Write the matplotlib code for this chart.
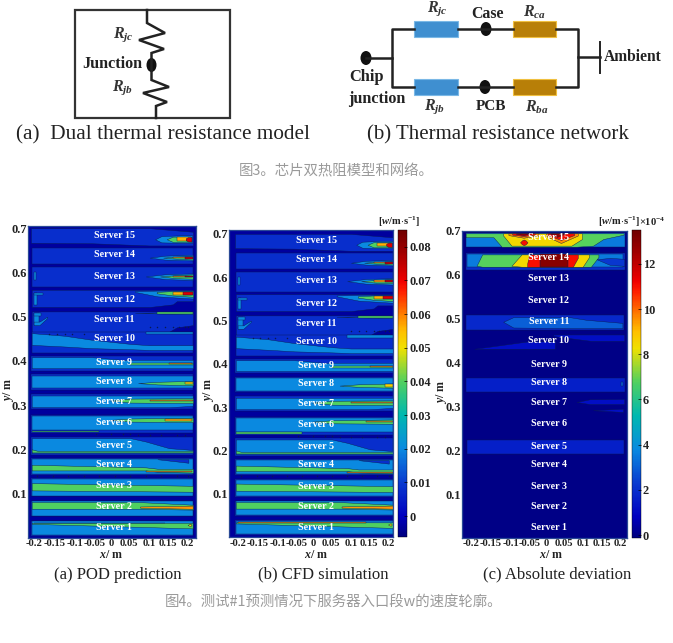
import matplotlib
matplotlib.use("Agg")
import matplotlib.pyplot as plt
from matplotlib.cm import ScalarMappable
from matplotlib.colors import LinearSegmentedColormap, Normalize
from matplotlib.patches import Ellipse, Rectangle

plt.rcParams["font.family"] = ["Liberation Serif", "DejaVu Sans"]
plt.rcParams["mathtext.fontset"] = "custom"
plt.rcParams["mathtext.rm"] = "Liberation Serif"
plt.rcParams["mathtext.it"] = "Liberation Serif:italic"
plt.rcParams["mathtext.bf"] = "Liberation Serif:bold"
plt.rcParams["mathtext.bfit"] = "Liberation Serif:italic:bold"

W, H = 673, 643

# --- contour tick labels -------------------------------------------------
server_names = ["Server %d" % i for i in range(15, 0, -1)]
server_label_y = [0.684, 0.640, 0.592, 0.540, 0.493, 0.451, 0.396, 0.354, 0.308,
                  0.260, 0.209, 0.167, 0.118, 0.071, 0.023]
y_ticks = [0.1, 0.2, 0.3, 0.4, 0.5, 0.6, 0.7]
x_tick_labels = ["-0.2", "-0.15", "-0.1", "-0.05", "0", "0.05", "0.1", "0.15", "0.2"]
x_tick_pos = [-0.2, -0.147, -0.094, -0.043, 0, 0.047, 0.1, 0.148, 0.198]
cbar_ticks_w = [0, 0.01, 0.02, 0.03, 0.04, 0.05, 0.06, 0.07, 0.08]
cbar_ticks_dev = [0, 2, 4, 6, 8, 10, 12]

# --- contour regions: (level, x, lower y, upper y) --
# velocity panels (a) and (b) share these, level in m/s
server_15 = [
    (0.008, [-0.207, -0.05, 0.1, 0.212], [0.667, 0.666, 0.661, 0.661], [0.700, 0.700, 0.700, 0.692]),
    (0.020, [0.114, 0.13, 0.18, 0.21], [0.675, 0.668, 0.667, 0.667], [0.675, 0.682, 0.684, 0.684]),
    (0.040, [0.144, 0.16, 0.208], [0.675, 0.669, 0.669], [0.675, 0.681, 0.681]),
    (0.056, [0.170, 0.207], [0.671, 0.671], [0.680, 0.680]),
    (0.072, [0.193, 0.199, 0.208], [0.673, 0.670, 0.670], [0.677, 0.680, 0.680]),
]
server_14 = [
    (0.008, [-0.205, 0.212], [0.619, 0.619], [0.656, 0.656]),
    (0.020, [0.10, 0.14, 0.211], [0.6335, 0.629, 0.627], [0.6335, 0.638, 0.640]),
    (0.040, [0.135, 0.17, 0.211], [0.6335, 0.631, 0.629], [0.6335, 0.636, 0.637]),
    (0.058, [0.16, 0.21], [0.632, 0.632], [0.635, 0.635]),
    (0.074, [0.19, 0.211], [0.631, 0.631], [0.636, 0.636]),
]
server_13 = [
    (0.008, [-0.205, 0.212], [0.567, 0.567], [0.612, 0.612]),
    (0.020, [-0.20, -0.195], [0.582, 0.582], [0.600, 0.600]),
    (0.020, [0.09, 0.14, 0.211], [0.591, 0.585, 0.583], [0.591, 0.596, 0.598]),
    (0.040, [0.127, 0.17, 0.211], [0.591, 0.587, 0.586], [0.591, 0.594, 0.596]),
    (0.058, [0.16, 0.21], [0.590, 0.590], [0.593, 0.593]),
    (0.074, [0.19, 0.211], [0.589, 0.589], [0.593, 0.593]),
]
server_12 = [
    (0.008, [-0.205, 0.1, 0.16, 0.17, 0.212], [0.522, 0.522, 0.528, 0.535, 0.535], [0.561] * 5),
    (0.020, [-0.20, -0.19], [0.527, 0.527], [0.553, 0.553]),
    (0.020, [-0.20, -0.175], [0.548, 0.548], [0.553, 0.553]),
    (0.020, [0.062, 0.12, 0.212], [0.556, 0.546, 0.541], [0.558, 0.559, 0.559]),
    (0.040, [0.118, 0.16, 0.212], [0.553, 0.548, 0.545], [0.556, 0.558, 0.558]),
    (0.056, [0.16, 0.21], [0.549, 0.549], [0.556, 0.556]),
    (0.072, [0.185, 0.211], [0.550, 0.550], [0.556, 0.556]),
]
server_11 = [
    (0.008, [-0.205, 0.15, 0.17, 0.212], [0.466, 0.466, 0.476, 0.481], [0.512] * 4),
    (0.020, [-0.20, -0.185], [0.481, 0.481], [0.508, 0.508]),
    (0.020, [-0.20, -0.18], [0.502, 0.502], [0.508, 0.508]),
    (0.020, [-0.20, -0.185, -0.165], [0.481, 0.481, 0.497], [0.489, 0.489, 0.500]),
    (0.020, [0.062, 0.211], [0.5085, 0.506], [0.5085, 0.511]),
    (0.040, [0.118, 0.211], [0.507, 0.507], [0.510, 0.510]),
]
server_10 = [
    (0.008, [-0.205, 0.212], [0.419, 0.419], [0.466, 0.466]),
    (0.020, [0.09, 0.211], [0.460, 0.460], [0.466, 0.466]),
    (0.020, [-0.205, -0.12, -0.05, 0.05, 0.1, 0.211],
     [0.4364, 0.4327, 0.429, 0.4266, 0.425, 0.425], [0.463, 0.457, 0.448, 0.4386, 0.4356, 0.4356]),
]
server_9 = [
    (0.008, [-0.207, 0.212], [0.378, 0.378], [0.412, 0.412]),
    (0.020, [-0.205, -0.05, 0.03, 0.212], [0.3837] * 4, [0.4086, 0.4086, 0.4026, 0.4026]),
    (0.040, [0.049, 0.212], [0.391, 0.391], [0.396, 0.396]),
    (0.058, [0.15, 0.21], [0.3925, 0.3925], [0.3945, 0.3945]),
]
server_8 = [
    (0.008, [-0.207, 0.212], [0.335, 0.335], [0.370, 0.370]),
    (0.020, [-0.205, 0.211], [0.3386, 0.3386], [0.3665, 0.3665]),
    (0.040, [0.07, 0.12, 0.212], [0.350, 0.347, 0.345], [0.350, 0.353, 0.355]),
    (0.052, [0.19, 0.211], [0.347, 0.347], [0.353, 0.353]),
]
server_7 = [
    (0.008, [-0.207, 0.212], [0.291, 0.291], [0.325, 0.325]),
    (0.020, [-0.205, 0.15, 0.211], [0.2957, 0.2957, 0.2985], [0.322, 0.322, 0.322]),
    (0.040, [-0.003, 0.05, 0.212], [0.3108, 0.306, 0.305], [0.3108, 0.315, 0.316]),
    (0.058, [0.1, 0.212], [0.309, 0.309], [0.3125, 0.3125]),
]
server_6 = [
    (0.008, [-0.207, 0.212], [0.237, 0.237], [0.278, 0.278]),
    (0.020, [-0.205, 0.211], [0.243, 0.243], [0.2746, 0.2746]),
    (0.040, [-0.003, 0.05, 0.212], [0.267, 0.263, 0.262], [0.267, 0.270, 0.272]),
    (0.056, [0.14, 0.21], [0.2655, 0.2655], [0.269, 0.269]),
    (0.040, [-0.205, -0.03], [0.2393, 0.2393], [0.2423, 0.2423]),
]
server_5 = [
    (0.008, [-0.207, 0.212], [0.188, 0.188], [0.228, 0.228]),
    (0.020, [-0.205, 0.05, 0.09, 0.15, 0.211], [0.192] * 5, [0.2257, 0.2257, 0.218, 0.203, 0.199]),
    (0.040, [-0.205, -0.19, 0.211], [0.1934] * 3, [0.2005, 0.197, 0.197]),
]
server_4 = [
    (0.008, [-0.207, 0.212], [0.143, 0.143], [0.181, 0.181]),
    (0.020, [-0.205, 0.211], [0.1452, 0.1452], [0.1783, 0.1783]),
    (0.008, [0.12, 0.2], [0.178, 0.170], [0.178, 0.178]),
    (0.040, [-0.205, 0.09, 0.12, 0.212], [0.1527, 0.1527, 0.1497, 0.1475], [0.1655, 0.1596, 0.1565, 0.1565]),
    (0.058, [0.09, 0.21], [0.149, 0.149], [0.1515, 0.1515]),
]
server_3 = [
    (0.008, [-0.207, 0.212], [0.094, 0.094], [0.1354, 0.1354]),
    (0.020, [-0.205, 0.211], [0.0955, 0.0955], [0.133, 0.133]),
    (0.040, [-0.205, 0.211], [0.1076, 0.1046], [0.124, 0.118]),
]
server_2 = [
    (0.008, [-0.207, 0.212], [0.049, 0.049], [0.0843, 0.0843]),
    (0.020, [-0.205, 0.211], [0.0504, 0.0504], [0.0828, 0.0828]),
    (0.040, [-0.205, 0.07, 0.212], [0.0662, 0.0662, 0.064], [0.0813, 0.0813, 0.0752]),
    (0.058, [0.075, 0.211], [0.0685, 0.0660], [0.0712, 0.0732]),
]
server_1 = [
    (0.008, [-0.207, 0.212], [0.0053, 0.0053], [0.039, 0.039]),
    (0.020, [-0.205, 0.211], [0.0075, 0.0075], [0.0376, 0.0376]),
    (0.040, [-0.205, 0.1, 0.211], [0.032, 0.0245, 0.0217], [0.0345, 0.0345, 0.0345]),
    (0.058, [-0.2, 0.14], [0.0335, 0.0335], [0.0345, 0.0345]),
    (0.052, [0.198, 0.205, 0.208], [0.0295, 0.0265, 0.0295], [0.0295, 0.0325, 0.0295]),
]
velocity_regions = [server_15, server_14, server_13, server_12, server_11, server_10, server_9,
                    server_8, server_7, server_6, server_5, server_4, server_3, server_2, server_1]

# dark dotted contour specks around servers 11, 6, 5 and 4
speck_x = [0.10, 0.12, 0.14, 0.16, 0.175, 0.19, 0.20, -0.16, -0.14, -0.12, -0.10, -0.07,
           -0.04, 0.0, 0.03, 0.05, 0.07, 0.10, 0.13, 0.17, 0.19, -0.19, -0.15, -0.11, -0.07,
           -0.03, 0.01, 0.05, 0.09, 0.13, 0.17, 0.20]
speck_y = [0.477, 0.477, 0.477, 0.477, 0.477, 0.477, 0.477, 0.460, 0.460, 0.460, 0.460, 0.460,
           0.234, 0.234, 0.234, 0.234, 0.232, 0.232, 0.232, 0.232, 0.232, 0.141, 0.141, 0.141, 0.141,
           0.141, 0.141, 0.141, 0.141, 0.141, 0.141, 0.141]

# deviation panel (c), level in 1e-4 m/s
dev_15 = [
    (3.5, [-0.214, 0.21], [0.662, 0.662], [0.694, 0.694]),
    (6.8, [-0.214, -0.14, -0.118, 0.082, 0.126, 0.153, 0.207],
     [0.685, 0.685, 0.6636, 0.6636, 0.666, 0.681, 0.691], [0.694] * 7),
    (8.4, [-0.114, -0.092, 0.068, 0.096], [0.689, 0.666, 0.666, 0.681], [0.694] * 4),
    (9.6, [-0.10, -0.06, -0.02], [0.69, 0.684, 0.689], [0.694] * 3),
    (9.6, [0.0, 0.04, 0.085], [0.688, 0.672, 0.689], [0.694] * 3),
    (11.0, [-0.09, -0.06, -0.03], [0.691, 0.688, 0.691], [0.694] * 3),
    (11.0, [0.005, 0.04, 0.075], [0.69, 0.679, 0.69], [0.694] * 3),
    (12.8, [-0.08, -0.06, -0.045], [0.693, 0.69, 0.693], [0.694] * 3),
    (12.8, [0.012, 0.03, 0.05], [0.693, 0.686, 0.693], [0.694] * 3),
    (11.0, [-0.069, -0.064, -0.059, -0.054, -0.049],
     [0.6735, 0.669, 0.667, 0.669, 0.6735], [0.6735, 0.678, 0.680, 0.678, 0.6735]),
]
dev_14 = [
    (2.0, [-0.214, 0.21], [0.611, 0.611], [0.649, 0.649]),
    (3.5, [-0.21, 0.205], [0.618, 0.618], [0.646, 0.646]),
    (6.8, [-0.185, -0.17, 0.12, 0.14], [0.62, 0.618, 0.618, 0.64], [0.62, 0.646, 0.646, 0.646]),
    (8.4, [-0.092, -0.065, 0.098, 0.115], [0.62, 0.618, 0.618, 0.64], [0.62, 0.646, 0.646, 0.646]),
    (11.0, [-0.05, -0.045, 0.072, 0.085], [0.618, 0.618, 0.618, 0.638], [0.625, 0.646, 0.646, 0.646]),
    (13.0, [-0.015, 0.06], [0.617, 0.617], [0.646, 0.646]),
    (2.2, [0.135, 0.171, 0.209], [0.635, 0.622, 0.62], [0.635, 0.638, 0.636]),
]
dev_11 = [
    (1.8, [-0.214, 0.208], [0.4742, 0.4742], [0.507, 0.507]),
    (3.0, [-0.114, -0.087, 0.064, 0.108, 0.204], [0.4925, 0.4795, 0.478, 0.478, 0.478],
     [0.4925, 0.503, 0.503, 0.497, 0.490]),
]
dev_10 = [
    (1.2, [0.02, 0.12, 0.209], [0.46, 0.449, 0.449], [0.4636, 0.4636, 0.4636]),
    (1.2, [-0.191, -0.05, 0.024], [0.431, 0.431, 0.431], [0.431, 0.4477, 0.4485]),
]
dev_8 = [
    (1.6, [-0.214, 0.21], [0.3326, 0.3326], [0.365, 0.365]),
    (3.0, [0.201, 0.205], [0.347, 0.347], [0.355, 0.355]),
]
dev_7 = [
    (1.2, [0.082, 0.117, 0.209], [0.31, 0.305, 0.305], [0.31, 0.316, 0.317]),
    (1.2, [0.126, 0.206], [0.291, 0.287], [0.291, 0.2947]),
]
dev_5 = [(1.6, [-0.21, 0.209], [0.1924, 0.1924], [0.2227, 0.2227])]
deviation_regions = [dev_15, dev_14, dev_11, dev_10, dev_8, dev_7, dev_5]

# colour scale of both colour bars, position along the bar and colour
scale_stops = [(0.0, "#00007f"), (0.068, "#0000c0"), (0.178, "#0a3cd0"), (0.287, "#0a8ae0"),
               (0.397, "#00b8b0"), (0.506, "#50d060"), (0.616, "#f0e000"), (0.67, "#ffc000"),
               (0.725, "#ff8000"), (0.80, "#ff2000"), (0.835, "#f00000"), (0.93, "#a00000"),
               (1.0, "#700000")]
CMAP = LinearSegmentedColormap.from_list("contour", scale_stops)
NORM_W = Normalize(-0.0062, 0.085)
NORM_DEV = Normalize(-0.13, 13.5)


def px_axes(fig, left, top, right, bottom):
    return fig.add_axes([left / W, 1 - bottom / H, (right - left) / W, (bottom - top) / H])


def draw_regions(ax, regions, norm):
    for server in regions:
        for level, xs, lows, highs in server:
            ax.fill_between(xs, lows, highs, color=CMAP(norm(level)), ec="#0a1a50", lw=0.3)


def contour_panel(fig, rect, xlim, ylim, regions, norm, bg):
    ax = px_axes(fig, *rect)
    ax.set_facecolor(CMAP(norm(bg)))
    draw_regions(ax, regions, norm)
    ax.set_xlim(xlim)
    ax.set_ylim(ylim)
    ax.set_yticks(y_ticks)
    ax.set_yticklabels(["%.1f" % v for v in y_ticks], fontsize=9, fontweight="bold", color="#222222")
    ax.set_xticks(x_tick_pos)
    ax.set_xticklabels(x_tick_labels, fontsize=7.6, fontweight="bold", color="#222222")
    ax.tick_params(length=0, pad=1)
    for s in ax.spines.values():
        s.set_color("#2a4a96")
        s.set_linewidth(0.9)
    for name, y in zip(server_names, server_label_y):
        ax.text(0.008, y, name, color="white", fontsize=7.2, fontweight="bold", ha="center", va="center")
    return ax


def colorbar(fig, rect, norm, ticks, labels):
    cax = px_axes(fig, *rect)
    cb = fig.colorbar(ScalarMappable(norm=norm, cmap=CMAP), cax=cax)
    cb.set_ticks(ticks)
    cb.set_ticklabels(labels)
    cb.outline.set_linewidth(0.3)
    cax.tick_params(length=2, width=0.5, direction="in", pad=1.5, labelsize=8.8, labelcolor="#222222")
    for t in cax.get_yticklabels():
        t.set_fontweight("bold")


def draw_schematics(ov):
    lw = 1.8
    ov.add_patch(Rectangle((74.5, 9.5), 155.5, 108.2, fill=False, ec="#333333", lw=1.6))
    ov.plot([147, 147, 165, 139, 164, 151.5, 151.5, 169, 143, 167, 156, 156],
            [10, 23, 33, 40, 49, 53, 80, 87, 93, 102, 106, 118], color="#222222", lw=lw, solid_joinstyle="miter")
    # network wires
    ov.plot([366, 392], [58, 58], color="#222222", lw=lw)
    ov.plot([414, 392, 392, 414], [28.5, 28.5, 86.7, 86.7], color="#222222", lw=lw)
    ov.plot([458, 513], [28.5, 28.5], color="#222222", lw=lw)
    ov.plot([458, 513], [86.7, 86.7], color="#222222", lw=lw)
    ov.plot([556, 578, 578, 556], [28.5, 28.5, 86.7, 86.7], color="#222222", lw=lw)
    ov.plot([578, 600], [57, 57], color="#222222", lw=lw)
    ov.plot([600.4, 600.4], [42, 72.7], color="#222222", lw=1.4)
    for y in [21, 79.3]:
        ov.add_patch(Rectangle((414, y), 44, 15.7, fc="#3f8fd0", ec="#7ab8e6", lw=0.8))
        ov.add_patch(Rectangle((513, y), 43, 15.7, fc="#b87f08", ec="#f0c040", lw=0.8))
    for x, y, w, h in [(151.5, 65, 10, 14), (366, 58, 11, 14), (486, 29, 11, 14), (485, 87, 11, 14)]:
        ov.add_patch(Ellipse((x, y), w, h, fc="#111111", ec="none"))

    notes = [(112.5, 63.5, "Junction", 11.6), (487, 13.5, "Case", 11.4), (633, 57, "Ambient", 11.2),
             (366, 77, "Chip", 11.8), (377, 99, "junction", 11.6), (490.5, 107, "PCB", 11)]
    for x, y, s, size in notes:
        ov.text(x, y, s, fontsize=size, fontweight="bold", ha="center", va="center", color="#222222")
    resist = [(123, 35, "jc"), (123, 88, "jb"), (437, 9, "jc"), (535, 12, "ca"), (435, 107, "jb"), (537, 107, "ba")]
    for x, y, sub in resist:
        ov.text(x, y, r"$\mathbfit{R}_{\mathbfit{%s}}$" % sub, fontsize=11.5, ha="center", va="center", color="#333333")
    ov.text(16.5, 135, "(a)  Dual thermal resistance model", fontsize=15.3, ha="left", va="center", color="#222222")
    ov.text(366.7, 135, "(b) Thermal resistance network", fontsize=15, ha="left", va="center", color="#222222")


def main():
    fig = plt.figure(figsize=(W / 100, H / 100), dpi=100, facecolor="white")

    ov = fig.add_axes([0, 0, 1, 1], zorder=5)
    ov.set_xlim(0, W)
    ov.set_ylim(H, 0)
    ov.axis("off")
    draw_schematics(ov)

    ax_a = contour_panel(fig, (28, 226, 195.6, 538), (-0.2145, 0.2186), (0, 0.705), velocity_regions, NORM_W, -0.003)
    ax_b = contour_panel(fig, (229.3, 230, 393.3, 537.3), (-0.222, 0.212), (0, 0.709), velocity_regions, NORM_W, -0.003)
    ax_c = contour_panel(fig, (462.3, 230.7, 627.3, 538), (-0.223, 0.217), (0, 0.698), deviation_regions, NORM_DEV, 0.0)
    for ax in [ax_a, ax_b]:
        ax.scatter(speck_x, speck_y, s=1.2, color="#0a1a50", lw=0, zorder=3)

    colorbar(fig, (398, 230, 407, 537), NORM_W, cbar_ticks_w, ["0", "0.01", "0.02", "0.03", "0.04", "0.05", "0.06", "0.07", "0.08"])
    colorbar(fig, (631.7, 230, 640.7, 538), NORM_DEV, cbar_ticks_dev, [str(v) for v in cbar_ticks_dev])

    for x in [111, 316, 551]:
        ov.text(x, 555, r"$\mathbfit{x}$/ m", fontsize=8.6, fontweight="bold", ha="center", va="center", color="#222222")
    for x, y in [(8, 390), (208, 390), (441.7, 391.7)]:
        ov.text(x, y, r"$\mathbfit{y}$/ m", fontsize=8.6, fontweight="bold", rotation=90, ha="center", va="center", color="#222222")
    unit = r"[$\mathbfit{w}$/m$\cdot$s$^{\mathbf{-1}}$]"
    ov.text(399, 222, unit, fontsize=7.6, fontweight="bold", ha="center", va="center", color="#222222")
    ov.text(618.7, 222, unit, fontsize=7.6, fontweight="bold", ha="center", va="center", color="#222222")
    ov.text(652, 222, r"$\mathbf{\times 10^{-4}}$", fontsize=7.6, ha="center", va="center", color="#222222")

    for x, s in [(117.5, "(a) POD prediction"), (323.7, "(b) CFD simulation"), (556.7, "(c) Absolute deviation")]:
        ov.text(x, 574.7, s, fontsize=12, ha="center", va="center", color="#222222")

    cjk = ["Noto Sans CJK SC", "DejaVu Sans"]
    ov.text(336.6, 171, "图3。芯片双热阻模型和网络。", family=cjk, fontsize=10.4, ha="center", va="center", color="#9a9a9a")
    ov.text(334, 602, "图4。测试#1预测情况下服务器入口段w的速度轮廓。", family=cjk, fontsize=10.4, ha="center", va="center", color="#9a9a9a")

    fig.savefig("out.png", dpi=100)


if __name__ == "__main__":
    main()
